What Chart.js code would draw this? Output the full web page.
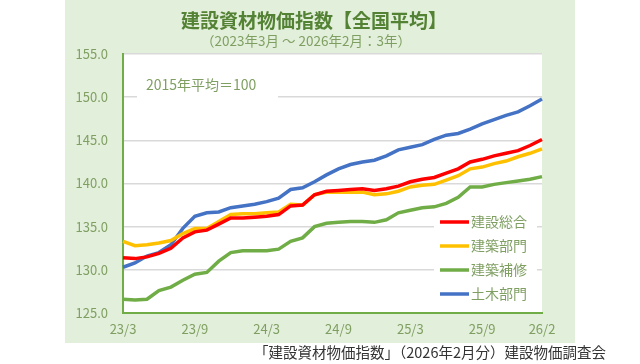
<!DOCTYPE html>
<html lang="ja">
<head>
<meta charset="utf-8">
<title>建設資材物価指数【全国平均】</title>
<script src="https://cdn.jsdelivr.net/npm/chart.js@4.4.1/dist/chart.umd.min.js"></script>
<style>
    html, body { margin: 0; padding: 0; background: #ffffff; }
    #chart-wrap { width: 640px; height: 364px; position: relative; }
</style>
</head>
<body>
<div id="chart-wrap"><canvas id="priceChart" width="640" height="364"></canvas></div>
<script>
// chart data (monthly, 2023/3 - 2026/2)
const categories = [
    '23/3', '23/4', '23/5', '23/6', '23/7', '23/8', '23/9', '23/10', '23/11', '23/12',
    '24/1', '24/2', '24/3', '24/4', '24/5', '24/6', '24/7', '24/8', '24/9', '24/10', '24/11', '24/12',
    '25/1', '25/2', '25/3', '25/4', '25/5', '25/6', '25/7', '25/8', '25/9', '25/10', '25/11', '25/12',
    '26/1', '26/2'
];
const shownTickLabels = ['23/3', '23/9', '24/3', '24/9', '25/3', '25/9', '26/2'];

const seriesNames = ['建設総合', '建築部門', '建築補修', '土木部門'];

const constructionTotal = [
    131.4, 131.3, 131.5, 131.9, 132.5, 133.7, 134.4, 134.6, 135.3, 136.0,
    136.0, 136.1, 136.2, 136.4, 137.4, 137.5, 138.7, 139.1, 139.2, 139.3, 139.4, 139.2,
    139.4, 139.7, 140.2, 140.5, 140.7, 141.2, 141.7, 142.5, 142.8, 143.2, 143.5, 143.8,
    144.4, 145.1
];
const buildingDivision = [
    133.3, 132.8, 132.9, 133.1, 133.4, 134.2, 134.8, 134.8, 135.6, 136.4,
    136.5, 136.5, 136.6, 136.7, 137.6, 137.5, 138.7, 139.0, 139.0, 139.0, 139.0, 138.7,
    138.8, 139.1, 139.6, 139.8, 139.9, 140.4, 140.9, 141.7, 141.9, 142.3, 142.6, 143.1,
    143.5, 144.0
];
const buildingRepair = [
    126.6, 126.5, 126.6, 127.6, 128.0, 128.8, 129.5, 129.7, 131.0, 132.0,
    132.2, 132.2, 132.2, 132.4, 133.3, 133.7, 135.0, 135.4, 135.5, 135.6, 135.6, 135.5,
    135.8, 136.6, 136.9, 137.2, 137.3, 137.7, 138.4, 139.6, 139.6, 139.9, 140.1, 140.3,
    140.5, 140.8
];
const civilEngineering = [
    130.3, 130.8, 131.6, 132.0, 132.9, 134.8, 136.2, 136.6, 136.7, 137.2,
    137.4, 137.6, 137.9, 138.3, 139.3, 139.5, 140.2, 141.0, 141.7, 142.2, 142.5, 142.7,
    143.2, 143.9, 144.2, 144.5, 145.1, 145.6, 145.8, 146.3, 146.9, 147.4, 147.9, 148.3,
    149.0, 149.8
];

const yTicks = [125, 130, 135, 140, 145, 150, 155];

// texts
const titleText = '建設資材物価指数【全国平均】';
const subtitleText = '（2023年3月 ～ 2026年2月：3年）';
const noteText = '2015年平均＝100';
const sourceText = '「建設資材物価指数」（2026年2月分）建設物価調査会';

// colours
const seriesColors = ['#ff0000', '#ffc000', '#70ad47', '#4472c4'];
const panelColor = '#e2efda';
const axisColor = '#70ad47';
const labelColor = '#7f9f62';
const fontFamily = '"Noto Sans CJK JP", "Noto Sans", sans-serif';

// Plugin drawing the green panel, the white plot area and the extra texts
const decorPlugin = {
    id: 'decor',
    beforeDraw(chart) {
        const ctx = chart.ctx;
        const area = chart.chartArea;
        ctx.save();
        ctx.fillStyle = panelColor;
        ctx.fillRect(65, 0, 510, 343);
        ctx.fillStyle = '#ffffff';
        ctx.fillRect(area.left, area.top, area.right - area.left, area.bottom - area.top);
        ctx.restore();
    },
    afterDraw(chart) {
        const ctx = chart.ctx;
        ctx.save();

        // title + subtitle
        ctx.textAlign = 'center';
        ctx.textBaseline = 'middle';
        ctx.fillStyle = '#548235';
        ctx.font = 'bold 19px ' + fontFamily;
        ctx.fillText(titleText, 314, 21);
        ctx.fillStyle = labelColor;
        ctx.font = '13.5px ' + fontFamily;
        ctx.fillText(subtitleText, 306, 41);

        // note box
        ctx.fillStyle = '#ffffff';
        ctx.fillRect(137, 72, 141, 28);
        ctx.fillStyle = labelColor;
        ctx.font = '14px ' + fontFamily;
        ctx.textAlign = 'left';
        ctx.fillText(noteText, 146, 85);

        // legend box
        ctx.fillStyle = '#ffffff';
        ctx.fillRect(434, 210, 103, 96);
        const rowY = [222, 246, 270, 294];
        seriesNames.forEach((name, i) => {
            ctx.strokeStyle = seriesColors[i];
            ctx.lineWidth = 3.5;
            ctx.beginPath();
            ctx.moveTo(440, rowY[i]);
            ctx.lineTo(469, rowY[i]);
            ctx.stroke();
            ctx.fillStyle = labelColor;
            ctx.font = '14px ' + fontFamily;
            ctx.fillText(name, 471, rowY[i]);
        });

        // source
        ctx.fillStyle = '#333333';
        ctx.font = '14.5px ' + fontFamily;
        ctx.textAlign = 'right';
        ctx.fillText(sourceText, 606, 352);

        ctx.restore();
    }
};

// Function to build a dataset
function makeDataset(label, data, color) {
    return {
        label: label,
        data: data,
        borderColor: color,
        backgroundColor: color,
        borderWidth: 3.5,
        pointRadius: 0,
        tension: 0,
        fill: false,
    };
}

const chartData = {
    labels: categories,
    datasets: [
        makeDataset(seriesNames[0], constructionTotal, seriesColors[0]),
        makeDataset(seriesNames[1], buildingDivision, seriesColors[1]),
        makeDataset(seriesNames[2], buildingRepair, seriesColors[2]),
        makeDataset(seriesNames[3], civilEngineering, seriesColors[3]),
    ],
};

const chartOptions = {
    responsive: false,
    animation: false,
    devicePixelRatio: 1,
    layout: {
        padding: { left: 65, right: 98, top: 54, bottom: 21 },
    },
    plugins: {
        legend: { display: false },
        title: { display: false },
        tooltip: { enabled: false },
    },
    scales: {
        x: {
            type: 'category',
            offset: false,
            grid: { display: false, drawTicks: false },
            border: { color: axisColor, width: 2 },
            ticks: {
                autoSkip: false,
                maxRotation: 0,
                padding: 8,
                color: labelColor,
                font: { family: fontFamily, size: 13 },
                callback: function (value, index) {
                    const label = categories[index];
                    return shownTickLabels.includes(label) ? label : '';
                },
            },
            afterFit: function (scale) { scale.height = 30; },
        },
        y: {
            min: yTicks[0],
            max: yTicks[yTicks.length - 1],
            afterBuildTicks: function (scale) {
                scale.ticks = yTicks.map(v => ({ value: v }));
            },
            grid: { color: '#d9d9d9', lineWidth: 1.5, drawTicks: false },
            border: { color: axisColor, width: 2 },
            ticks: {
                padding: 15,
                color: labelColor,
                font: { family: fontFamily, size: 13 },
                callback: function (value) { return Number(value).toFixed(1); },
            },
            afterFit: function (scale) { scale.width = 58; },
        },
    },
};

// Render chart on page load
function renderChart(chartId, data, options) {
    const ctx = document.getElementById(chartId).getContext('2d');
    return new Chart(ctx, {
        type: 'line',
        data: data,
        options: options,
        plugins: [decorPlugin],
    });
}

renderChart('priceChart', chartData, chartOptions);
</script>
</body>
</html>
